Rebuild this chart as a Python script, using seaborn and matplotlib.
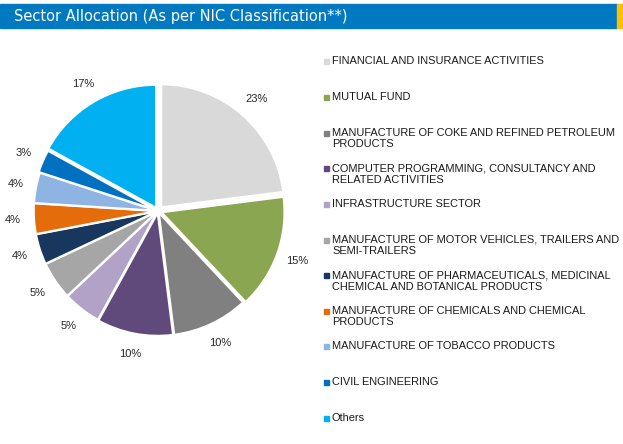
import matplotlib.pyplot as plt
import matplotlib.patches as mpatches
import seaborn as sns

sns.set_theme(style="white")
plt.rcParams['font.family'] = ['Liberation Sans', 'DejaVu Sans']

sectors = ['FINANCIAL AND INSURANCE ACTIVITIES',
           'MUTUAL FUND',
           'MANUFACTURE OF COKE AND REFINED PETROLEUM\nPRODUCTS',
           'COMPUTER PROGRAMMING, CONSULTANCY AND\nRELATED ACTIVITIES',
           'INFRASTRUCTURE SECTOR',
           'MANUFACTURE OF MOTOR VEHICLES, TRAILERS AND\nSEMI-TRAILERS',
           'MANUFACTURE OF PHARMACEUTICALS, MEDICINAL\nCHEMICAL AND BOTANICAL PRODUCTS',
           'MANUFACTURE OF CHEMICALS AND CHEMICAL\nPRODUCTS',
           'MANUFACTURE OF TOBACCO PRODUCTS',
           'CIVIL ENGINEERING',
           'Others']
shares = [23, 15, 10, 10, 5, 5, 4, 4, 4, 3, 17]
sector_colors = ['#D9D9D9', '#8BA650', '#808080', '#604A7B', '#B3A2C7', '#A6A6A6',
                 '#17375E', '#E46C0A', '#8EB4E3', '#0070C0', '#00B0F0']
palette = sns.color_palette(sector_colors)

fig = plt.figure(figsize=(6.23, 4.44), dpi=100)
W, H = 623, 444

# header bar
fig.patches.append(mpatches.Rectangle((0, 1 - 28 / H), 617 / W, 24 / H, transform=fig.transFigure,
                                      color='#0079C1', zorder=0))
fig.patches.append(mpatches.Rectangle((617 / W, 1 - 28 / H), 6 / W, 24 / H, transform=fig.transFigure,
                                      color='#FFC000', zorder=0))
fig.text(14 / W, 1 - 16 / H, 'Sector Allocation (As per NIC Classification**)', color='white',
         fontsize=10.5, va='center', ha='left', family=['DejaVu Sans'])

# pie: unit radius = 123 px, centre near (158, 211)
R = 123
ax = fig.add_axes([(158 - 1.3 * R) / W, (H - 211 - 1.3 * R) / H, 2.6 * R / W, 2.6 * R / H])
explode = [0.04, 0.03, 0.015, 0.015, 0.01, 0.01, 0.01, 0.01, 0.01, 0.02, 0.03]
wedges, texts, autotexts = ax.pie(shares, colors=palette, startangle=90, counterclock=False,
                                  explode=explode, autopct='%d%%', pctdistance=1.17,
                                  wedgeprops=dict(edgecolor='white', linewidth=1.5),
                                  textprops=dict(fontsize=8, color='#262626'))
ax.set_xlim(-1.3, 1.3)
ax.set_ylim(-1.3, 1.3)
ax.set_aspect('equal')
ax.axis('off')

# legend, one slot per sector
for i, (name, col) in enumerate(zip(sectors, palette)):
    y = 1 - (62 + i * 35.6) / H
    fig.patches.append(mpatches.Rectangle((324 / W, y - 2.5 / H), 5 / W, 5 / H,
                                          transform=fig.transFigure, color=col))
    fig.text(332 / W, y + 5.5 / H, name, fontsize=7.9, color='#1a1a1a', va='top', ha='left',
             linespacing=1.2)

fig.savefig('out.png', dpi=100)
